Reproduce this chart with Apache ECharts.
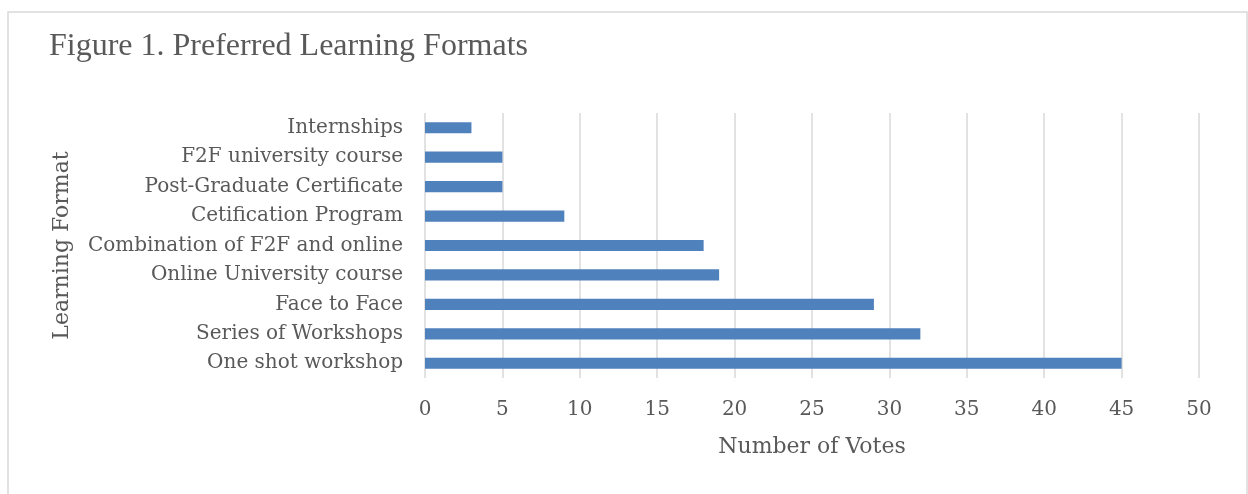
<!DOCTYPE html>
<html><head><meta charset="utf-8">
<script src="https://cdn.jsdelivr.net/npm/echarts@6/dist/echarts.min.js"></script>
<style>html,body{margin:0;padding:0;background:#fff}#c{width:1248px;height:494px}</style>
</head><body><div id="c"></div>
<script>
const categories = ["One shot workshop","Series of Workshops","Face to Face","Online University course","Combination of F2F and online","Cetification Program","Post-Graduate Certificate","F2F university course","Internships"];
const votes = [45,32,29,19,18,9,5,5,3];
const titleText = "Figure 1. Preferred Learning Formats";
const xName = "Number of Votes";
const yName = "Learning Format";

const chart = echarts.init(document.getElementById('c'));
const serif = "'DejaVu Serif', serif";
chart.setOption({
  animation:false,
  graphic:[{type:'rect',shape:{x:8,y:12,width:1239,height:500},style:{fill:'none',stroke:'#d9d9d9',lineWidth:1.5}}],
  title:{text:titleText,left:44,top:26,textStyle:{fontFamily:"'Liberation Serif', serif",fontSize:32,fontWeight:'normal',color:'#595959'}},
  grid:{left:425,right:49,top:113,bottom:116},
  xAxis:{type:'value',min:0,max:50,interval:5,name:xName,nameLocation:'middle',nameGap:58,
    nameTextStyle:{fontFamily:serif,fontSize:22,color:'#595959'},
    axisLabel:{fontFamily:serif,fontSize:20,color:'#595959',margin:22},
    axisLine:{show:false},axisTick:{show:false},
    splitLine:{lineStyle:{color:'#d9d9d9',width:1.5}}},
  yAxis:{type:'category',data:categories,name:yName,nameLocation:'middle',nameGap:352,
    nameTextStyle:{fontFamily:serif,fontSize:22,color:'#595959'},
    axisLabel:{fontFamily:serif,fontSize:20,color:'#595959',margin:22},
    axisLine:{show:false},axisTick:{show:false}},
  series:[{type:'bar',data:votes,barWidth:'38%',itemStyle:{color:'#4f81bd'}}]
});
</script></body></html>
